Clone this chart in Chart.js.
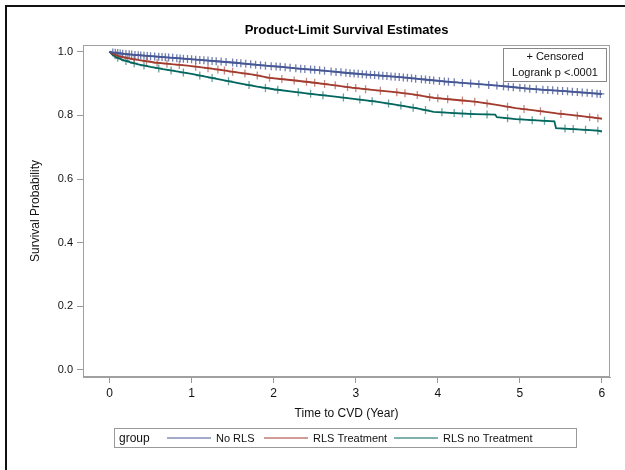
<!DOCTYPE html>
<html>
<head>
<meta charset="utf-8">
<script src="https://cdn.jsdelivr.net/npm/chart.js@4/dist/chart.umd.min.js"></script>
<style>
  body { margin: 0; background: #fff; }
  #kmContainer { width: 625px; height: 470px; position: relative; }
</style>
</head>
<body>
<div id="kmContainer">
  <canvas id="kmChart" width="625" height="470"></canvas>
</div>
<script>
// group names and colours
const groupLabels = ["No RLS", "RLS Treatment", "RLS no Treatment"];
const groupColors = ["#445694", "#A23A2E", "#01665E"];
const censorColors = ["rgba(68,86,148,0.75)", "rgba(162,58,46,0.6)", "rgba(1,102,94,0.6)"];

// survival estimates (time in years)
const noRlsTime = [0, 0.05, 0.15, 0.3, 0.5, 0.7, 0.9, 1.1, 1.3, 1.5, 1.7, 1.9, 2.1, 2.3, 2.5, 2.7, 2.9, 3.1, 3.3, 3.5, 3.7, 3.9, 4.1, 4.3, 4.5, 4.7, 4.9, 5.1, 5.3, 5.5, 5.7, 5.9, 6.0];
const noRlsSurv = [1.0, 0.997, 0.994, 0.990, 0.986, 0.982, 0.978, 0.974, 0.970, 0.966, 0.961, 0.956, 0.952, 0.947, 0.943, 0.938, 0.933, 0.929, 0.925, 0.921, 0.916, 0.911, 0.906, 0.902, 0.898, 0.894, 0.889, 0.884, 0.880, 0.877, 0.873, 0.869, 0.867];

const rlsTrtTime = [0, 0.05, 0.12, 0.25, 0.4, 0.55, 0.75, 0.95, 1.15, 1.35, 1.55, 1.75, 1.95, 2.2, 2.45, 2.7, 2.95, 3.2, 3.45, 3.7, 3.95, 4.2, 4.45, 4.7, 4.95, 5.2, 5.45, 5.7, 5.95, 6.0];
const rlsTrtSurv = [1.0, 0.992, 0.985, 0.978, 0.972, 0.966, 0.961, 0.956, 0.950, 0.943, 0.935, 0.928, 0.918, 0.911, 0.904, 0.896, 0.887, 0.880, 0.874, 0.866, 0.855, 0.849, 0.843, 0.834, 0.823, 0.815, 0.806, 0.799, 0.791, 0.789];

const rlsNoTrtTime = [0, 0.03, 0.08, 0.15, 0.25, 0.35, 0.5, 0.65, 0.8, 1.0, 1.2, 1.4, 1.6, 1.8, 2.0, 2.25, 2.5, 2.75, 3.0, 3.25, 3.5, 3.75, 3.95, 4.2, 4.45, 4.7, 4.72, 4.95, 5.2, 5.42, 5.44, 5.7, 5.95, 6.0];
const rlsNoTrtSurv = [1.0, 0.992, 0.983, 0.975, 0.967, 0.960, 0.952, 0.945, 0.939, 0.930, 0.920, 0.910, 0.900, 0.890, 0.882, 0.874, 0.866, 0.859, 0.851, 0.843, 0.833, 0.822, 0.811, 0.807, 0.804, 0.802, 0.794, 0.788, 0.784, 0.781, 0.760, 0.756, 0.752, 0.749];

// censoring times per group
const noRlsCensor = [0.04, 0.07, 0.1, 0.13, 0.16, 0.2, 0.24, 0.27, 0.31, 0.35, 0.38, 0.42, 0.46, 0.5, 0.55, 0.6, 0.64, 0.68, 0.72, 0.77, 0.82, 0.86, 0.9, 0.95, 1.0, 1.05, 1.1, 1.15, 1.2, 1.25, 1.3, 1.36, 1.42, 1.5, 1.55, 1.6, 1.66, 1.72, 1.78, 1.84, 1.9, 1.97, 2.03, 2.08, 2.14, 2.2, 2.27, 2.33, 2.38, 2.45, 2.5, 2.56, 2.62, 2.7, 2.76, 2.82, 2.88, 2.93, 2.98, 3.03, 3.08, 3.13, 3.18, 3.23, 3.28, 3.33, 3.38, 3.43, 3.48, 3.53, 3.58, 3.63, 3.68, 3.73, 3.8, 3.85, 3.9, 3.95, 4.02, 4.08, 4.13, 4.2, 4.3, 4.4, 4.5, 4.62, 4.72, 4.8, 4.86, 4.92, 5.0, 5.06, 5.12, 5.2, 5.28, 5.34, 5.4, 5.46, 5.52, 5.58, 5.64, 5.7, 5.76, 5.82, 5.88, 5.94, 5.98];
const rlsTrtCensor = [0.08, 0.15, 0.22, 0.3, 0.45, 0.58, 0.7, 0.85, 1.05, 1.2, 1.32, 1.4, 1.5, 1.65, 1.8, 1.95, 2.1, 2.25, 2.4, 2.5, 2.62, 2.75, 2.9, 3.0, 3.12, 3.3, 3.5, 3.6, 3.75, 3.9, 4.0, 4.12, 4.3, 4.45, 4.6, 4.85, 5.05, 5.25, 5.5, 5.7, 5.85, 5.95];
const rlsNoTrtCensor = [0.1, 0.2, 0.3, 0.42, 0.6, 0.75, 0.9, 1.1, 1.25, 1.45, 1.7, 1.9, 2.05, 2.3, 2.45, 2.6, 2.85, 3.05, 3.2, 3.4, 3.55, 3.7, 3.85, 4.05, 4.2, 4.3, 4.4, 4.6, 4.85, 5.0, 5.15, 5.3, 5.55, 5.65, 5.8, 5.95];

// tick labels
const xTicks = [0, 1, 2, 3, 4, 5, 6];
const yTicks = [0, 0.2, 0.4, 0.6, 0.8, 1.0];

const times = [noRlsTime, rlsTrtTime, rlsNoTrtTime];
const survs = [noRlsSurv, rlsTrtSurv, rlsNoTrtSurv];
const censors = [noRlsCensor, rlsTrtCensor, rlsNoTrtCensor];

// censor mark sits on the curve: linear lookup between read points
function survAt(g, t) {
  const ts = times[g], ss = survs[g];
  for (let i = 1; i < ts.length; i++) {
    if (t <= ts[i]) {
      const f = (t - ts[i - 1]) / (ts[i] - ts[i - 1]);
      return ss[i - 1] + f * (ss[i] - ss[i - 1]);
    }
  }
  return ss[ss.length - 1];
}

const datasets = [];
groupLabels.forEach((label, g) => {
  datasets.push({
    label: label,
    data: times[g].map((t, i) => ({ x: t, y: survs[g][i] })),
    borderColor: groupColors[g],
    borderWidth: 1.8,
    pointRadius: 0,
    tension: 0,
    fill: false,
  });
});
groupLabels.forEach((label, g) => {
  datasets.push({
    label: label + " censored",
    type: "scatter",
    data: censors[g].map((t) => ({ x: t, y: survAt(g, t) })),
    pointStyle: "cross",
    pointRadius: 4,
    borderWidth: 1.3,
    borderColor: censorColors[g],
    backgroundColor: censorColors[g],
  });
});

const font = "'Liberation Sans', Arial, sans-serif";

const decorPlugin = {
  id: "decor",
  afterDraw(chart) {
    const ctx = chart.ctx;
    const a = chart.chartArea;
    ctx.save();
    // outer frame
    ctx.strokeStyle = "#111";
    ctx.lineWidth = 2;
    ctx.beginPath();
    ctx.moveTo(6, 470);
    ctx.lineTo(6, 6);
    ctx.lineTo(625, 6);
    ctx.stroke();

    // plot frame
    ctx.strokeStyle = "#a0a0a0";
    ctx.lineWidth = 1;
    ctx.strokeRect(a.left + 0.5, a.top + 0.5, a.right - a.left - 1, a.bottom - a.top - 1);

    // title
    ctx.fillStyle = "#000";
    ctx.font = "bold 13px " + font;
    ctx.textAlign = "center";
    ctx.textBaseline = "middle";
    ctx.fillText("Product-Limit Survival Estimates", (a.left + a.right) / 2, 30);

    // inset box
    ctx.fillStyle = "#fff";
    ctx.fillRect(503, 48, 104, 34);
    ctx.strokeStyle = "#888";
    ctx.strokeRect(503.5, 48.5, 103, 33);
    ctx.fillStyle = "#111";
    ctx.font = "11px " + font;
    ctx.fillText("+ Censored", 555, 57);
    ctx.fillText("Logrank p <.0001", 555, 73);

    // legend
    ctx.strokeStyle = "#999";
    ctx.strokeRect(114.5, 428.5, 462, 19);
    ctx.textAlign = "left";
    ctx.font = "12px " + font;
    ctx.fillStyle = "#111";
    ctx.fillText("group", 119, 438.5);
    const lx = [167, 264, 394];
    ctx.font = "11px " + font;
    groupLabels.forEach((label, g) => {
      ctx.strokeStyle = groupColors[g];
      ctx.lineWidth = 1.2;
      ctx.beginPath();
      ctx.moveTo(lx[g], 438);
      ctx.lineTo(lx[g] + 44, 438);
      ctx.stroke();
      ctx.fillStyle = "#111";
      ctx.fillText(label, lx[g] + 49, 438.5);
    });
    ctx.restore();
  },
};

new Chart(document.getElementById("kmChart").getContext("2d"), {
  type: "line",
  data: { datasets: datasets },
  options: {
    responsive: false,
    animation: false,
    devicePixelRatio: 1,
    layout: { padding: { left: 0, right: 15, top: 45, bottom: 41 } },
    plugins: {
      legend: { display: false },
      tooltip: { enabled: false },
      title: { display: false },
    },
    scales: {
      x: {
        type: "linear",
        min: -0.323,
        max: 6.098,
        afterBuildTicks: (scale) => { scale.ticks = xTicks.map((v) => ({ value: v })); },
        afterFit: (scale) => { scale.height = 52; },
        grid: { drawOnChartArea: false, drawTicks: true, tickLength: 6, color: "#999" },
        border: { display: true, color: "#a0a0a0" },
        ticks: { color: "#111", font: { family: font, size: 12 }, padding: 3, callback: (v) => String(v) },
        title: { display: true, text: "Time to CVD (Year)", color: "#111", font: { family: font, size: 12 }, padding: { top: 0, bottom: 8 } },
      },
      y: {
        type: "linear",
        min: -0.022,
        max: 1.021,
        afterBuildTicks: (scale) => { scale.ticks = yTicks.map((v) => ({ value: v })); },
        afterFit: (scale) => { scale.width = 83; },
        grid: { drawOnChartArea: false, drawTicks: true, tickLength: 6, color: "#999" },
        border: { display: true, color: "#a0a0a0" },
        ticks: { color: "#111", font: { family: font, size: 11 }, padding: 4, callback: (v) => v.toFixed(1) },
        title: { display: true, text: "Survival Probability", color: "#111", font: { family: font, size: 12 }, padding: { top: 28, bottom: 4 } },
      },
    },
  },
  plugins: [decorPlugin],
});
</script>
</body>
</html>
